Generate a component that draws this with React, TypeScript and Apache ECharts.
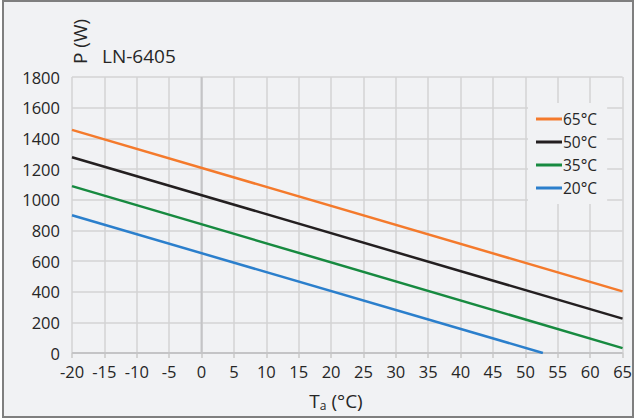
import React, { useEffect, useRef } from "react";
import * as echarts from "echarts";

const xStart = -20;
const xEnd = 65;
const yTicks = [0, 200, 400, 600, 800, 1000, 1200, 1400, 1600, 1800];
const seriesNames = ["65°C", "50°C", "35°C", "20°C"];
const colors = ["#f47a2c", "#231f20", "#178a40", "#2b7fcc"];
const line65: [number, number][] = [[-20, 1455], [65, 402]];
const line50: [number, number][] = [[-20, 1277], [65, 224]];
const line35: [number, number][] = [[-20, 1088], [65, 32]];
const line20: [number, number][] = [[-20, 898], [52.7, 0]];
const seriesData = [line65, line50, line35, line20];

const FONT = "'Open Sans', 'Noto Sans', sans-serif";

export default function App() {
  const ref = useRef<HTMLDivElement>(null);
  useEffect(() => {
    if (!ref.current) return;
    const chart = echarts.init(ref.current, undefined, { renderer: "svg" });
    chart.setOption({
      animation: false,
      backgroundColor: "#ffffff",
      textStyle: { fontFamily: FONT },
      graphic: [
        {
          type: "rect",
          shape: { x: 3, y: 1, width: 630, height: 416 },
          style: { fill: "#f1f2f4", stroke: "#7f7f7f", lineWidth: 2 },
          z: -10,
          silent: true,
        },
        {
          type: "text",
          x: 102,
          y: 46,
          style: { text: "LN-6405", font: `19px ${FONT}`, fill: "#262626" },
        },
        {
          type: "text",
          x: 70,
          y: 64,
          rotation: Math.PI / 2,
          style: { text: "P (W)", font: `19px ${FONT}`, fill: "#262626" },
        },
        {
          type: "text",
          x: 336,
          y: 401,
          style: {
            text: "T{sub|a} (°C)",
            font: `19px ${FONT}`,
            fill: "#262626",
            align: "center",
            verticalAlign: "middle",
            rich: {
              sub: { fontSize: 12, fontFamily: FONT, verticalAlign: "bottom", padding: [9, 0, 0, 0], fill: "#262626" },
            },
          },
        },
      ],
      grid: { left: 72, right: 12, top: 77, bottom: 66 },
      legend: {
        data: seriesNames,
        orient: "vertical",
        left: 528,
        top: 103,
        icon: "rect",
        itemWidth: 26,
        itemHeight: 3,
        itemGap: 3,
        padding: [6, 10, 6, 8],
        backgroundColor: "#f1f2f4",
        textStyle: { fontSize: 15.5, color: "#262626", fontFamily: FONT, lineHeight: 20, padding: [0, 0, 0, -4] },
      },
      xAxis: {
        type: "value",
        min: xStart,
        max: xEnd,
        interval: 5,
        axisLine: { show: false },
        axisTick: { show: true, length: 5, lineStyle: { color: "#c8c8c8", width: 1.5 } },
        axisLabel: { fontSize: 16.5, color: "#262626", fontFamily: FONT, margin: 10 },
        splitLine: { show: true, lineStyle: { color: "#d3d3d5", width: 1.5 } },
      },
      yAxis: {
        type: "value",
        min: yTicks[0],
        max: yTicks[yTicks.length - 1],
        interval: 200,
        axisLine: { show: false },
        axisTick: { show: false },
        axisLabel: {
          fontSize: 16.5,
          color: "#262626",
          fontFamily: FONT,
          margin: 12,
          formatter: (v: number) => String(v),
        },
        splitLine: { show: true, lineStyle: { color: "#d3d3d5", width: 1.5 } },
      },
      series: [
        {
          type: "line",
          name: "__axis0",
          data: [[0, 0], [0, 1800]],
          showSymbol: false,
          symbol: "none",
          lineStyle: { color: "#c4c4c6", width: 2 },
          silent: true,
          z: 1,
        },
        {
          type: "line",
          name: "__axisY0",
          data: [[xStart, 0], [xEnd, 0]],
          showSymbol: false,
          symbol: "none",
          lineStyle: { color: "#c4c4c6", width: 2 },
          silent: true,
          z: 1,
        },
        ...seriesNames.map((n, i) => ({
          type: "line",
          name: n,
          data: seriesData[i],
          showSymbol: false,
          symbol: "none",
          color: colors[i],
          lineStyle: { color: colors[i], width: 2.5 },
          z: 3,
        })),
      ],
    });
    return () => chart.dispose();
  }, []);
  return (
    <div
      ref={ref}
      style={{ position: "fixed", left: 0, top: 0, width: 635, height: 419 }}
    />
  );
}
